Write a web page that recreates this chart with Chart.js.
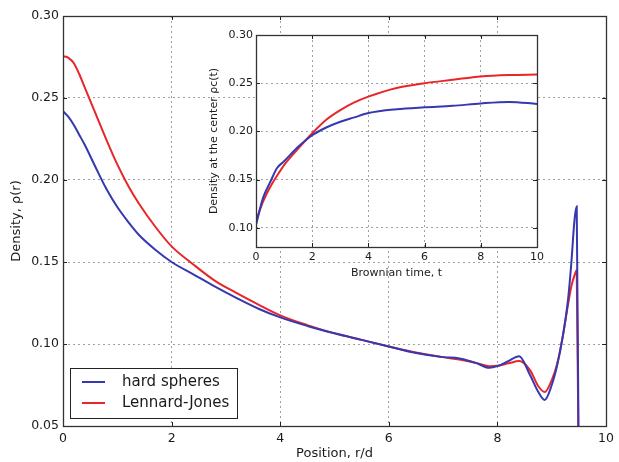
<!DOCTYPE html>
<html>
<head>
<meta charset="utf-8">
<script src="https://cdn.jsdelivr.net/npm/chart.js@4.4.0/dist/chart.umd.min.js"></script>
<style>
  html, body { margin: 0; padding: 0; background: #fff; }
  #wrap { position: relative; width: 619px; height: 462px; }
  #main { position: absolute; left: 0; top: 0; }
  #inset { position: absolute; left: 200px; top: 25px; }
</style>
</head>
<body>
<div id="wrap">
  <canvas id="main" width="619" height="462" style="width:619px;height:462px"></canvas>
  <canvas id="inset" width="348" height="260" style="width:348px;height:260px"></canvas>
</div>
<script>
// Main panel: density profile vs position r/d
const positionR = [0, 0.1, 0.2, 0.3, 0.4, 0.6, 0.8, 1.0, 1.2, 1.4, 1.7, 2.0, 2.4, 2.8, 3.2, 3.6, 4.0, 4.5, 5.0, 5.5,
    6.0, 6.5, 7.0, 7.3, 7.6, 7.85, 8.0, 8.2, 8.4, 8.6, 8.75, 8.87, 9.0, 9.1, 9.2, 9.3, 9.36, 9.42, 9.46, 9.5];
const hardSpheres = [0.242, 0.2385, 0.2335, 0.2275, 0.2215, 0.2078, 0.1945, 0.1835, 0.1745, 0.1665, 0.1575, 0.150, 0.1425, 0.135, 0.128, 0.1215, 0.1162, 0.111, 0.1065, 0.1025,
    0.0985, 0.0945, 0.092, 0.0912, 0.0885, 0.0855, 0.0865, 0.0896, 0.0925, 0.0811, 0.0709, 0.0659, 0.075, 0.087, 0.104, 0.127, 0.149, 0.176, 0.184, 0.0];
const lennardJones = [0.2755, 0.2745, 0.2712, 0.2645, 0.2565, 0.2405, 0.2245, 0.2095, 0.1965, 0.1855, 0.1715, 0.1595, 0.1485, 0.1385, 0.131, 0.124, 0.1175, 0.1115, 0.1065, 0.1025,
    0.0985, 0.0948, 0.092, 0.0905, 0.0885, 0.0865, 0.0868, 0.0882, 0.0896, 0.0841, 0.0744, 0.0707, 0.078, 0.088, 0.104, 0.124, 0.135, 0.142, 0.145, 0.0];

// Inset: density at the center vs Brownian time
const brownianTime = [0, 0.25, 0.5, 0.75, 1.0, 1.5, 2.0, 2.5, 3.0, 3.5, 4.0, 5.0, 6.0, 7.0, 8.0, 9.0, 10.0];
const centerHardSpheres = [0.103, 0.131, 0.147, 0.162, 0.169, 0.184, 0.196, 0.204, 0.210, 0.2145, 0.219, 0.223, 0.225, 0.2265, 0.229, 0.2305, 0.2285];
const centerLennardJones = [0.107, 0.127, 0.142, 0.154, 0.165, 0.182, 0.198, 0.212, 0.222, 0.230, 0.236, 0.245, 0.250, 0.2535, 0.257, 0.2585, 0.259];

const seriesLabels = ['hard spheres', 'Lennard-Jones'];
const seriesColors = ['#3538b0', '#e8262a'];

const mainXTicks = [0, 2, 4, 6, 8, 10];
const mainYTicks = [0.05, 0.10, 0.15, 0.20, 0.25, 0.30];
const insetXTicks = [0, 2, 4, 6, 8, 10];
const insetYTicks = [0.10, 0.15, 0.20, 0.25, 0.30];

const FONT = 'DejaVu Sans';
const TEXT = '#1a1a1a';

function toPoints(xs, ys) {
    return xs.map((x, i) => ({ x: x, y: ys[i] }));
}

function fixedTicks(values) {
    return function(scale) {
        scale.ticks = values.map(v => ({ value: v }));
    };
}

// white plot background, box frame and inward tick marks (matplotlib look)
const framePlugin = {
    id: 'frame',
    beforeDraw(chart) {
        const a = chart.chartArea;
        const ctx = chart.ctx;
        ctx.save();
        ctx.fillStyle = '#fff';
        ctx.fillRect(a.left, a.top, a.right - a.left, a.bottom - a.top);
        ctx.restore();
    },
    afterDraw(chart) {
        const { ctx, chartArea: a, scales } = chart;
        const len = 4;
        ctx.save();
        ctx.strokeStyle = '#222';
        ctx.lineWidth = 1;
        ctx.beginPath();
        scales.x.ticks.forEach(t => {
            const px = Math.round(scales.x.getPixelForValue(t.value)) + 0.5;
            ctx.moveTo(px, a.bottom); ctx.lineTo(px, a.bottom - len);
            ctx.moveTo(px, a.top); ctx.lineTo(px, a.top + len);
        });
        scales.y.ticks.forEach(t => {
            const py = Math.round(scales.y.getPixelForValue(t.value)) + 0.5;
            ctx.moveTo(a.left, py); ctx.lineTo(a.left + len, py);
            ctx.moveTo(a.right, py); ctx.lineTo(a.right - len, py);
        });
        ctx.stroke();
        ctx.lineWidth = 1.3;
        ctx.strokeStyle = '#333';
        ctx.strokeRect(Math.round(a.left) + 0.5, Math.round(a.top) + 0.5,
            Math.round(a.right - a.left), Math.round(a.bottom - a.top));
        ctx.restore();
    }
};

// legend box in the lower left corner of the main panel
const boxLegend = {
    id: 'boxLegend',
    afterDraw(chart) {
        const { ctx, chartArea: a } = chart;
        const sets = chart.data.datasets;
        const rowH = 21;
        const boxW = 167, boxH = 50;
        const bx = a.left + 7, by = a.bottom - 8 - boxH;
        ctx.save();
        ctx.fillStyle = '#fff';
        ctx.fillRect(bx, by, boxW, boxH);
        ctx.strokeStyle = '#222';
        ctx.lineWidth = 1;
        ctx.strokeRect(bx + 0.5, by + 0.5, boxW, boxH);
        ctx.font = '15px "' + FONT + '"';
        ctx.textBaseline = 'middle';
        sets.forEach((ds, i) => {
            const cy = by + 14 + i * rowH;
            ctx.strokeStyle = ds.borderColor;
            ctx.lineWidth = 2;
            ctx.beginPath();
            ctx.moveTo(bx + 12, cy);
            ctx.lineTo(bx + 35, cy);
            ctx.stroke();
            ctx.fillStyle = TEXT;
            ctx.fillText(ds.label, bx + 52, cy);
        });
        ctx.restore();
    }
};

function axisOptions(opts) {
    return {
        type: 'linear',
        position: opts.position,
        min: opts.min,
        max: opts.max,
        afterBuildTicks: fixedTicks(opts.ticks),
        afterFit: opts.afterFit,
        grid: { color: '#a0a0a0', lineWidth: 1, drawTicks: false },
        border: { display: false, dash: [2, 3] },
        ticks: {
            color: TEXT,
            padding: opts.pad,
            font: { family: FONT, size: opts.tickSize },
            callback: opts.format
        },
        title: {
            display: true,
            text: opts.title,
            color: TEXT,
            font: { family: FONT, size: opts.titleSize },
            padding: opts.titlePad
        }
    };
}

function lineSet(label, color, xs, ys) {
    return {
        label: label,
        data: toPoints(xs, ys),
        borderColor: color,
        backgroundColor: color,
        borderWidth: 2,
        pointRadius: 0,
        fill: false,
        cubicInterpolationMode: 'monotone'
    };
}

const commonOpts = {
    responsive: false,
    animation: false,
    devicePixelRatio: 1,
    plugins: { legend: { display: false }, tooltip: { enabled: false } }
};

new Chart(document.getElementById('main'), {
    type: 'line',
    data: {
        datasets: [
            lineSet(seriesLabels[0], seriesColors[0], positionR, hardSpheres),
            lineSet(seriesLabels[1], seriesColors[1], positionR, lennardJones)
        ]
    },
    options: Object.assign({}, commonOpts, {
        layout: { padding: { top: 16, right: 9, left: 0, bottom: 0 } },
        scales: {
            x: axisOptions({
                position: 'bottom', min: 0, max: 10, ticks: mainXTicks, pad: 5,
                tickSize: 12.5, titleSize: 13, title: 'Position, r/d',
                titlePad: { top: 0, bottom: 1 },
                format: v => String(v),
                afterFit: s => { s.height = 36; }
            }),
            y: axisOptions({
                position: 'left', min: 0.05, max: 0.30, ticks: mainYTicks, pad: 4,
                tickSize: 12.5, titleSize: 13, title: 'Density, ρ(r)',
                titlePad: { top: 9, bottom: 0 },
                format: v => v.toFixed(2),
                afterFit: s => { s.width = 63; }
            })
        }
    }),
    plugins: [framePlugin, boxLegend]
});

new Chart(document.getElementById('inset'), {
    type: 'line',
    data: {
        datasets: [
            lineSet(seriesLabels[0], seriesColors[0], brownianTime, centerHardSpheres),
            lineSet(seriesLabels[1], seriesColors[1], brownianTime, centerLennardJones)
        ]
    },
    options: Object.assign({}, commonOpts, {
        layout: { padding: { top: 10, right: 9, left: 0, bottom: 0 } },
        scales: {
            x: axisOptions({
                position: 'bottom', min: 0, max: 10, ticks: insetXTicks, pad: 4,
                tickSize: 11, titleSize: 11, title: 'Brownian time, t',
                titlePad: { top: 0, bottom: 5 },
                format: v => String(v),
                afterFit: s => { s.height = 38; }
            }),
            y: axisOptions({
                position: 'left', min: 0.08, max: 0.30, ticks: insetYTicks, pad: 3,
                tickSize: 11, titleSize: 11, title: 'Density at the center ρc(t)',
                titlePad: { top: 8, bottom: 0 },
                format: v => v.toFixed(2),
                afterFit: s => { s.width = 56; }
            })
        }
    }),
    plugins: [framePlugin]
});
</script>
</body>
</html>
